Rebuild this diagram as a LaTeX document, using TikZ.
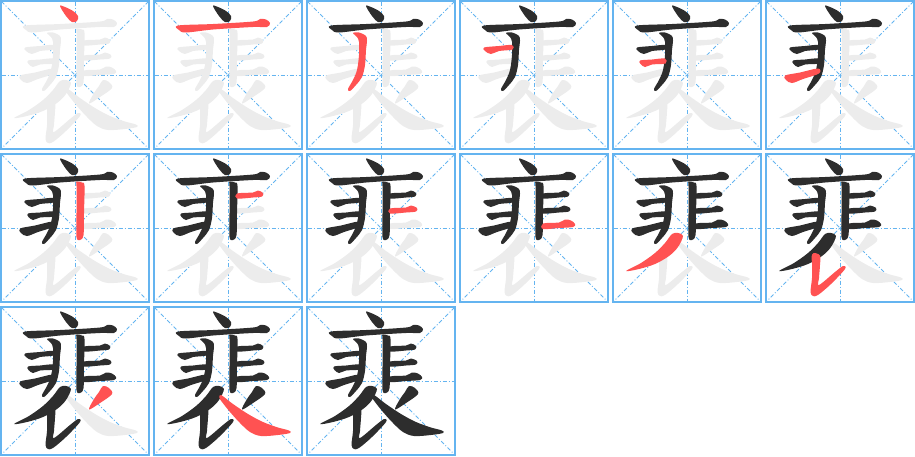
\documentclass[tikz,border=0pt]{standalone}
\definecolor{gridblue}{RGB}{100,180,240}
\definecolor{strokeblack}{RGB}{45,45,45}
\definecolor{strokered}{RGB}{255,82,82}
\definecolor{strokegray}{RGB}{236,236,236}
\newcommand\defstroke[2]{\expandafter\def\csname mystroke#1\endcsname##1{\fill[##1] plot[smooth cycle, tension=0.55] coordinates {#2};}}
% 1 dot
\defstroke{1}{(60,6) (65,7) (73,11) (78,16) (77,21) (72,22) (66,16)}
% 2 long horizontal
\defstroke{2}{(25,25.5) (60,24) (100,21.5) (107,19) (113,19.5) (117,23) (114,27) (100,27) (60,29.5) (33,32.5) (26,30)}
% 3 left vertical with hook
\defstroke{3}{(47,33) (53,32.5) (60,36) (61,41) (60,50) (59,65) (56,77) (50,85) (44,91) (42,89) (47,80) (51,70) (53,55) (53,42) (51,37)}
% 4 left horizontal 1
\defstroke{4}{(25,47.5) (40,46) (53,45) (53.5,49.5) (40,51) (32,54) (26,51)}
% 5 left horizontal 2
\defstroke{5}{(28,60.5) (40,59.5) (53,58.5) (53.5,63.5) (40,64.5) (33,67) (28.5,64)}
% 6 left rising
\defstroke{6}{(20,75.5) (35,72.5) (53,68.5) (54,73.5) (38,79) (27,83) (21,80)}
% 7 right vertical
\defstroke{7}{(76.5,28.5) (82,29.5) (84.5,33) (84,60) (83.5,82) (80,87) (76.5,84) (76.5,60) (76.5,33)}
% 8 right horizontal 1
\defstroke{8}{(84,40.5) (100,39.5) (105,37.5) (110,40) (109,43.5) (100,44.5) (84,45.5)}
% 9 right horizontal 2
\defstroke{9}{(84,55.5) (100,54.5) (105,52.5) (111,55) (110,58.5) (100,59.5) (84,60.5)}
% 10 right horizontal 3
\defstroke{10}{(84,70.5) (100,69.5) (106,66.5) (112,67.5) (116,71) (114,74) (100,75) (84,76)}
% 11 long pie
\defstroke{11}{(66,80) (71,83) (66,94) (57,103) (43,111) (27,116) (14,118) (29,110) (43,100) (53,90) (60,81)}
% 12 vertical rising
\defstroke{12}{(48.5,100) (55,102.5) (55,112) (54,125) (54,132) (70,119) (78,113) (80,116) (66,131) (53,142) (48,143) (45.5,139) (47,125) (47,110) (46.5,104)}
% 13 small pie
\defstroke{13}{(103,80) (109,82) (112,88) (100,97) (89,103.5) (94,93) (99,86)}
% 14 na
\defstroke{14}{(68,89) (80,98) (95,108) (110,116) (125,121.5) (136,124.5) (137,127) (125,129) (108,130) (97,126) (87,117) (77,106) (69,96) (66.5,92)}
\tikzset{
  cellborder/.style={draw=gridblue, line width=1.4pt},
  guideline/.style={draw=gridblue, line width=0.8pt, dash pattern=on 4pt off 2pt on 1pt off 2pt},
}
\begin{document}
\begin{tikzpicture}[x=1pt,y=-1pt]
\useasboundingbox (0,0) rectangle (915,456);
\foreach \n in {1,...,15}{
  \pgfmathtruncatemacro\col{mod(\n-1,6)}
  \pgfmathtruncatemacro\row{div(\n-1,6)}
  \begin{scope}[shift={(\col*153,\row*153)}]
    \draw[guideline] (1.5,1.5) -- (148.5,148.5);
    \draw[guideline] (148.5,1.5) -- (1.5,148.5);
    \draw[guideline] (75,1.5) -- (75,148.5);
    \draw[guideline] (1.5,75) -- (148.5,75);
    \draw[cellborder] (1,1) rectangle (149,149);
    \foreach \s in {1,...,14}{%
      \ifnum\s>\n \csname mystroke\s\endcsname{strokegray}\fi}
    \foreach \s in {1,...,14}{%
      \ifnum\s<\n \csname mystroke\s\endcsname{strokeblack}\fi
      \ifnum\s=\n \csname mystroke\s\endcsname{strokered}\fi}
  \end{scope}
}
\end{tikzpicture}
\end{document}
